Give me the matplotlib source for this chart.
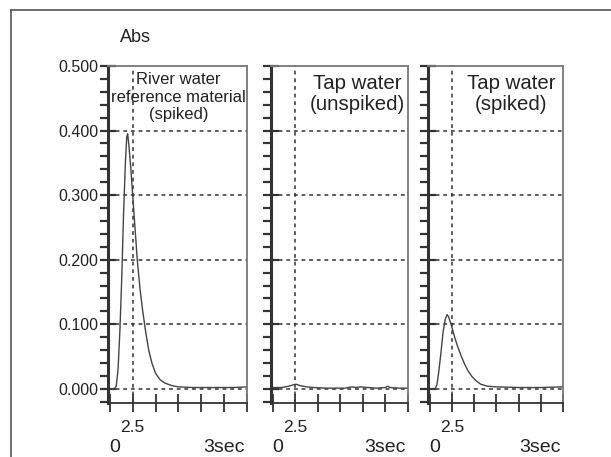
import matplotlib.pyplot as plt
from matplotlib import font_manager
from matplotlib.ticker import MultipleLocator
from matplotlib.lines import Line2D

# --- data ---
titles = ["River water\nreference material\n(spiked)",
          "Tap water\n(unspiked)",
          "Tap water\n(spiked)"]

t1 = [0.0, 0.10, 0.14, 0.18, 0.22, 0.26, 0.30, 0.34, 0.37, 0.39, 0.42, 0.46, 0.50,
      0.55, 0.60, 0.66, 0.72, 0.78, 0.85, 0.92, 1.00, 1.10, 1.20, 1.35, 1.50, 1.80,
      2.10, 2.40, 2.70, 3.0]
a1 = [0.0, 0.0, 0.004, 0.03, 0.09, 0.17, 0.27, 0.35, 0.39, 0.395, 0.375, 0.34, 0.30,
      0.25, 0.20, 0.155, 0.12, 0.09, 0.06, 0.04, 0.024, 0.014, 0.009, 0.005, 0.003,
      0.002, 0.002, 0.002, 0.002, 0.003]

t2 = [0.0, 0.2, 0.35, 0.45, 0.52, 0.6, 0.75, 0.9, 1.2, 1.6, 1.75, 1.85, 1.95, 2.1,
      2.3, 2.5, 2.55, 2.6, 2.8, 3.0]
a2 = [0.002, 0.002, 0.004, 0.006, 0.007, 0.005, 0.003, 0.002, 0.001, 0.001, 0.003,
      0.002, 0.003, 0.002, 0.001, 0.002, 0.004, 0.002, 0.001, 0.001]

t3 = [0.0, 0.12, 0.16, 0.20, 0.25, 0.30, 0.35, 0.39, 0.42, 0.46, 0.50, 0.56, 0.62,
      0.70, 0.78, 0.86, 0.95, 1.05, 1.15, 1.30, 1.50, 2.0, 2.5, 3.0]
a3 = [0.0, 0.0, 0.006, 0.025, 0.055, 0.088, 0.108, 0.115, 0.112, 0.104, 0.095, 0.08,
      0.067, 0.052, 0.039, 0.028, 0.019, 0.012, 0.007, 0.004, 0.003, 0.002, 0.002, 0.003]

yticks = [0.0, 0.1, 0.2, 0.3, 0.4, 0.5]
ytick_labels = ["0.000", "0.100", "0.200", "0.300", "0.400", "0.500"]
xmark = 0.5
xmark_label = "2.5"

series = [(t1, a1), (t2, a2), (t3, a3)]

names = {f.name for f in font_manager.fontManager.ttflist}
narrow = 'Liberation Sans Narrow' if 'Liberation Sans Narrow' in names else 'Liberation Sans'
plt.rcParams['font.family'] = ['Liberation Sans', 'DejaVu Sans']

fig = plt.figure(figsize=(6.11, 4.57), dpi=100)

# outer frame (top and left only visible)
fig.add_artist(Line2D([11/611, 11/611], [0, 1 - 10/457], transform=fig.transFigure,
                      color='#555555', lw=1.2))
fig.add_artist(Line2D([11/611, 1], [1 - 10/457, 1 - 10/457], transform=fig.transFigure,
                      color='#555555', lw=1.2))

boxes = [(108, 247), (271, 408), (428, 563)]
title_x = [1.5, 1.88, 1.84]
title_size = [12, 14.7, 14.7]
title_y = [0.5 - 0.010, 0.5 - 0.012, 0.5 - 0.012]
title_ls = [1.18, 1.12, 1.12]

for i, ((x0, x1), (t, a)) in enumerate(zip(boxes, series)):
    ax = fig.add_axes([x0/611, 54/457, (x1 - x0)/611, 337/457])
    ax.plot(t, a, color='#444444', lw=1.0)
    ax.set_xlim(-0.04, 3.0)
    ax.set_ylim(-0.022, 0.5)

    for y in yticks[:-1]:
        ax.axhline(y, color='#333333', lw=1.1, ls=(0, (2.5, 2.5)), zorder=1)
    ax.axvline(xmark, color='#333333', lw=1.1, ls=(0, (2.5, 2.5)), zorder=1)

    ax.set_yticks(yticks)
    ax.yaxis.set_minor_locator(MultipleLocator(0.02))
    ax.set_xticks([0, 0.5, 1.0, 1.5, 2.0, 2.5, 3.0])
    ax.set_xticklabels([])
    if i == 0:
        ax.set_yticklabels(ytick_labels, family=narrow, fontsize=11.5, color='#222222')
    else:
        ax.set_yticklabels([])
    ax.tick_params(axis='y', which='major', direction='inout', length=12, width=1.6,
                   color='#333333', pad=1)
    ax.tick_params(axis='y', which='minor', direction='out', length=6, width=1.6,
                   color='#333333')
    ax.tick_params(axis='x', which='major', direction='inout', length=13, width=1.3,
                   color='#333333')

    ax.spines['left'].set_linewidth(2.2)
    ax.spines['left'].set_color('#333333')
    ax.spines['bottom'].set_linewidth(1.3)
    ax.spines['bottom'].set_color('#333333')
    for s in ['top', 'right']:
        ax.spines[s].set_linewidth(1.3)
        ax.spines[s].set_color('#777777')

    ax.text(title_x[i], title_y[i], titles[i], ha='center', va='top',
            fontsize=title_size[i], linespacing=title_ls[i], color='#222222',
            family=[narrow, 'DejaVu Sans'] if i == 0 else ['Liberation Sans', 'DejaVu Sans'])

    ax.annotate(xmark_label, xy=(xmark, 0), xycoords=('data', 'axes fraction'),
                xytext=(0, -24), textcoords='offset pixels', ha='center', va='center',
                family=narrow, fontsize=12.5, color='#222222')
    ax.annotate("0", xy=(0, 0), xycoords='axes fraction', xytext=(1, -45),
                textcoords='offset pixels', ha='left', va='center', fontsize=14,
                color='#222222')
    ax.annotate("3sec", xy=(1, 0), xycoords='axes fraction', xytext=(-2, -45),
                textcoords='offset pixels', ha='right', va='center', fontsize=14,
                color='#222222')

fig.text(135/611, 1 - 37/457, "Abs", ha='center', va='center', fontsize=13,
         color='#222222')

fig.savefig('out.png', dpi=100)
